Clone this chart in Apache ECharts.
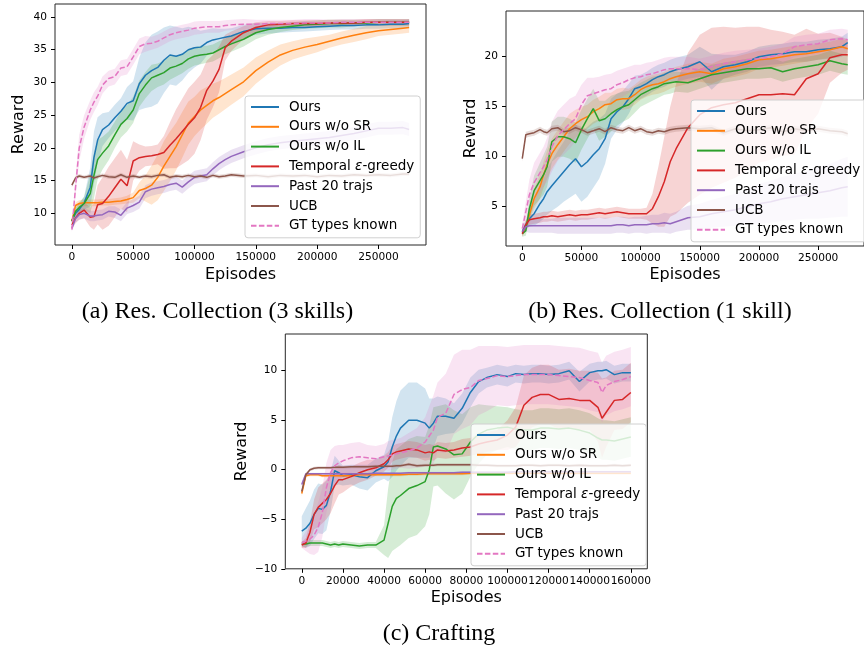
<!DOCTYPE html>
<html>
<head>
<meta charset="utf-8">
<script src="https://cdn.jsdelivr.net/npm/echarts@6/dist/echarts.min.js"></script>
<style>
  html, body { margin: 0; background: #fff; }
  #chart { width: 864px; height: 652px; }
</style>
</head>
<body>
<div id="chart"></div>
<script>
// method names and tab10 colours
const methods = ['Ours', 'Ours w/o SR', 'Ours w/o IL', 'Temporal ε-greedy', 'Past 20 trajs', 'UCB', 'GT types known'];
const colors = ['#1f77b4', '#ff7f0e', '#2ca02c', '#d62728', '#9467bd', '#8c564b', '#e377c2'];

// ---------- (a) Res. Collection (3 skills) ----------
const aEpisodes = [0, 3000, 6000, 10000, 15000, 18000, 21000, 25000, 30000, 35000, 40000, 45000, 50000, 55000, 60000, 65000, 70000, 75000, 80000, 85000, 90000, 95000, 100000, 105000, 110000, 115000, 120000, 125000, 130000, 140000, 150000, 160000, 170000, 180000, 190000, 200000, 210000, 220000, 230000, 240000, 250000, 260000, 270000, 275000];
const aOurs = [8.9, 10.0, 10.6, 11.6, 14.0, 18.5, 21.2, 22.8, 23.5, 24.6, 25.6, 26.8, 27.2, 29.8, 31.1, 31.8, 32.3, 33.4, 34.2, 34.0, 34.3, 35.0, 35.3, 35.4, 36.1, 36.5, 36.7, 36.9, 37.1, 37.8, 38.2, 38.3, 38.3, 38.4, 38.4, 38.5, 38.6, 38.7, 38.7, 38.8, 38.8, 38.9, 38.9, 39.0];
const aOursBand = [0.5, 0.7, 0.8, 1.0, 3.0, 4.0, 3.5, 2.5, 2.0, 2.0, 2.0, 2.5, 3.0, 4.0, 5.0, 5.5, 5.5, 5.0, 4.5, 4.5, 4.0, 3.5, 3.0, 2.5, 2.0, 1.8, 1.5, 1.3, 1.2, 1.0, 0.9, 0.8, 0.7, 0.7, 0.6, 0.6, 0.6, 0.6, 0.6, 0.6, 0.6, 0.6, 0.6, 0.6];
const aNoSR = [8.8, 11.2, 11.5, 11.6, 11.6, 11.6, 11.6, 11.7, 11.7, 11.8, 11.9, 12.1, 12.4, 13.5, 13.8, 14.3, 15.5, 17.2, 18.7, 20.2, 22.0, 23.8, 24.8, 25.8, 26.5, 27.2, 27.7, 28.3, 28.9, 30.1, 31.8, 33.1, 34.2, 34.9, 35.4, 35.8, 36.3, 36.8, 37.2, 37.6, 37.9, 38.1, 38.3, 38.4];
const aNoSRBand = [0.3, 0.5, 0.5, 0.5, 0.5, 0.5, 0.5, 0.5, 0.5, 0.5, 0.5, 0.6, 0.8, 1.2, 2.0, 3.0, 3.5, 3.8, 3.8, 3.6, 3.5, 3.3, 3.0, 3.0, 2.8, 2.6, 2.5, 2.4, 2.3, 2.2, 2.0, 1.8, 1.6, 1.4, 1.3, 1.2, 1.0, 1.0, 1.0, 1.0, 0.8, 0.8, 0.8, 0.8];
const aNoIL = [8.8, 10.3, 10.9, 11.5, 13.0, 15.8, 18.2, 19.2, 20.3, 22.0, 23.6, 24.5, 25.8, 28.3, 29.6, 30.7, 31.1, 31.5, 32.2, 32.5, 32.9, 33.6, 34.0, 34.2, 34.3, 34.5, 35.0, 35.5, 35.9, 36.6, 37.6, 38.1, 38.4, 38.6, 38.8, 38.9, 39.0, 39.0, 39.1, 39.1, 39.2, 39.2, 39.2, 39.2];
const aNoILBand = [0.4, 0.6, 0.8, 1.0, 3.0, 3.5, 3.0, 2.5, 2.2, 2.0, 2.0, 2.0, 2.0, 2.0, 2.0, 2.0, 1.8, 1.8, 1.8, 1.6, 1.5, 1.5, 1.4, 1.4, 1.3, 1.3, 1.3, 1.2, 1.2, 1.1, 1.0, 0.8, 0.7, 0.6, 0.6, 0.6, 0.6, 0.6, 0.5, 0.5, 0.5, 0.5, 0.5, 0.5];
const aTemporal = [8.2, 9.3, 10.0, 10.5, 9.4, 9.5, 11.3, 11.5, 12.6, 13.9, 15.2, 14.2, 18.0, 18.5, 18.7, 18.8, 19.0, 19.3, 20.4, 21.4, 22.5, 23.6, 24.6, 26.2, 28.8, 30.2, 32.0, 35.3, 36.3, 37.6, 38.4, 38.8, 38.9, 39.0, 39.0, 39.0, 39.1, 39.1, 39.1, 39.2, 39.2, 39.2, 39.2, 39.2];
const aTemporalBand = [0.5, 0.8, 1.0, 1.2, 1.5, 2.0, 3.0, 4.0, 4.5, 4.5, 4.5, 4.0, 3.0, 2.0, 1.5, 1.5, 1.5, 2.5, 3.5, 4.5, 5.0, 5.5, 5.5, 5.0, 4.5, 4.0, 3.5, 2.0, 1.5, 1.0, 0.8, 0.6, 0.5, 0.5, 0.5, 0.5, 0.5, 0.5, 0.5, 0.5, 0.5, 0.5, 0.5, 0.5];
const aPast = [7.7, 9.2, 9.8, 10.0, 9.6, 9.6, 9.7, 9.8, 10.3, 10.2, 9.7, 10.8, 11.2, 11.7, 13.3, 13.7, 13.9, 14.1, 14.4, 14.6, 14.0, 14.8, 15.5, 15.7, 15.9, 16.8, 17.6, 18.2, 18.7, 19.4, 20.0, 20.5, 20.8, 21.0, 21.2, 21.4, 21.6, 21.9, 22.2, 22.6, 23.0, 23.0, 23.1, 22.8];
const aPastBand = [0.4, 0.6, 0.8, 0.8, 0.8, 0.8, 0.8, 0.8, 0.8, 0.9, 0.9, 0.9, 1.0, 1.0, 1.0, 1.0, 1.0, 1.0, 1.0, 1.0, 1.0, 1.0, 1.0, 1.0, 1.0, 1.0, 1.0, 1.0, 1.0, 1.0, 1.0, 1.0, 1.0, 1.0, 1.0, 1.0, 1.0, 1.0, 1.0, 1.0, 1.0, 1.0, 1.0, 1.0];
const aUCB = [14.3, 15.4, 15.7, 15.5, 15.7, 15.4, 15.6, 15.8, 15.6, 15.5, 15.9, 15.5, 15.7, 15.5, 15.7, 15.6, 15.8, 15.9, 15.5, 15.7, 15.6, 15.8, 15.6, 15.7, 15.5, 15.8, 15.6, 15.7, 15.9, 15.7, 15.8, 15.6, 15.8, 15.7, 15.8, 15.6, 15.8, 15.7, 15.9, 15.8, 15.9, 15.8, 16.0, 16.0];
const aUCBBand = [0.3, 0.3, 0.3, 0.3, 0.3, 0.3, 0.3, 0.3, 0.3, 0.3, 0.3, 0.3, 0.3, 0.3, 0.3, 0.3, 0.3, 0.3, 0.3, 0.3, 0.3, 0.3, 0.3, 0.3, 0.3, 0.3, 0.3, 0.3, 0.3, 0.3, 0.3, 0.3, 0.3, 0.3, 0.3, 0.3, 0.3, 0.3, 0.3, 0.3, 0.3, 0.3, 0.3, 0.3];
const aGT = [7.5, 14.0, 20.0, 23.2, 25.8, 27.0, 27.9, 29.6, 30.6, 30.9, 32.2, 32.4, 33.9, 35.5, 35.9, 36.0, 36.3, 36.8, 37.3, 37.6, 37.8, 38.0, 38.3, 38.4, 38.5, 38.5, 38.5, 38.7, 38.8, 38.9, 38.9, 39.0, 39.0, 39.0, 39.1, 39.1, 39.1, 39.2, 39.2, 39.2, 39.2, 39.2, 39.2, 39.2];
const aGTBand = [0.5, 1.5, 2.0, 1.8, 1.5, 1.5, 1.4, 1.3, 1.2, 1.2, 1.2, 1.2, 1.2, 1.2, 1.2, 1.0, 1.0, 1.0, 1.0, 1.0, 1.0, 1.0, 1.0, 1.0, 0.9, 0.9, 0.9, 0.8, 0.8, 0.8, 0.7, 0.6, 0.6, 0.6, 0.6, 0.6, 0.5, 0.5, 0.5, 0.5, 0.5, 0.5, 0.5, 0.5];

// ---------- (b) Res. Collection (1 skill) ----------
const bEpisodes = aEpisodes;
const bOurs = [2.5, 3.2, 3.8, 4.3, 5.3, 5.8, 6.5, 7.1, 7.8, 8.5, 9.2, 9.8, 9.0, 9.5, 10.2, 10.8, 11.8, 13.8, 14.5, 15.0, 15.8, 16.8, 17.0, 17.3, 17.7, 18.0, 18.2, 18.5, 18.7, 19.0, 19.5, 18.5, 19.0, 19.2, 19.5, 20.0, 20.2, 20.3, 20.5, 20.5, 20.7, 20.8, 21.0, 21.4];
const bOursBand = [0.3, 0.5, 0.8, 1.2, 1.8, 2.0, 2.3, 2.5, 2.8, 3.0, 3.3, 3.5, 3.5, 3.5, 3.3, 3.0, 2.5, 2.0, 1.8, 1.6, 1.5, 1.3, 1.2, 1.2, 1.2, 1.2, 1.2, 1.2, 1.2, 1.2, 1.5, 1.8, 1.2, 1.0, 1.0, 1.0, 1.0, 1.0, 1.0, 1.0, 1.0, 1.0, 1.0, 1.0];
const bNoSR = [2.4, 3.0, 4.2, 5.8, 7.0, 8.2, 9.2, 10.3, 11.2, 12.0, 12.8, 13.3, 13.7, 14.0, 14.5, 14.8, 15.2, 15.3, 15.7, 15.8, 15.8, 16.2, 16.7, 17.0, 17.2, 17.3, 17.5, 17.8, 18.0, 18.3, 18.5, 18.3, 18.8, 19.0, 19.3, 19.7, 19.8, 20.0, 20.2, 20.3, 20.5, 20.7, 21.0, 20.8];
const bNoSRBand = [0.3, 0.5, 0.8, 1.0, 1.2, 1.3, 1.4, 1.5, 1.5, 1.5, 1.5, 1.4, 1.3, 1.2, 1.2, 1.2, 1.2, 1.1, 1.1, 1.1, 1.0, 1.0, 1.0, 1.0, 1.0, 1.0, 1.0, 1.0, 1.0, 1.0, 1.0, 1.0, 1.0, 1.0, 1.0, 0.9, 0.9, 0.9, 0.9, 0.8, 0.8, 0.8, 0.8, 0.8];
const bNoIL = [2.3, 2.6, 4.8, 6.6, 7.6, 8.2, 9.0, 11.5, 12.0, 12.0, 11.8, 11.4, 12.7, 13.8, 14.8, 13.6, 13.8, 14.3, 14.7, 15.0, 15.2, 15.7, 16.2, 16.5, 16.8, 17.0, 17.3, 17.4, 17.5, 17.4, 17.8, 18.2, 18.4, 18.6, 18.8, 18.8, 18.9, 18.5, 18.8, 19.0, 19.2, 19.6, 19.3, 19.2];
const bNoILBand = [0.3, 0.5, 1.0, 1.5, 1.8, 2.0, 2.0, 2.0, 2.0, 2.0, 2.0, 2.0, 2.0, 2.0, 2.0, 2.0, 1.8, 1.8, 1.6, 1.5, 1.4, 1.3, 1.2, 1.2, 1.2, 1.1, 1.1, 1.1, 1.0, 1.0, 1.0, 1.0, 1.0, 1.0, 1.0, 1.0, 1.0, 1.0, 1.0, 1.0, 1.0, 1.0, 1.0, 1.0];
const bTemporal = [2.3, 3.2, 3.7, 3.8, 3.9, 4.0, 4.0, 4.1, 4.0, 4.1, 4.2, 4.1, 4.2, 4.2, 4.3, 4.4, 4.3, 4.4, 4.5, 4.4, 4.3, 4.3, 4.3, 4.3, 4.8, 6.0, 7.5, 9.5, 10.8, 12.9, 14.2, 14.9, 15.2, 15.4, 15.8, 16.2, 16.2, 16.3, 16.2, 17.8, 18.3, 19.9, 20.2, 20.2];
const bTemporalBand = [0.3, 0.4, 0.5, 0.5, 0.5, 0.5, 0.5, 0.5, 0.5, 0.5, 0.5, 0.5, 0.5, 0.5, 0.5, 0.5, 0.5, 0.5, 0.5, 0.5, 0.5, 0.5, 0.5, 0.6, 1.5, 3.0, 4.5, 5.5, 6.5, 7.5, 8.0, 8.0, 7.8, 7.5, 7.2, 6.8, 6.5, 6.2, 6.0, 5.0, 4.0, 2.5, 1.8, 1.5];
const bPast = [2.5, 3.0, 3.1, 3.1, 3.1, 3.1, 3.1, 3.1, 3.1, 3.1, 3.1, 3.1, 3.1, 3.1, 3.1, 3.1, 3.1, 3.1, 3.2, 3.2, 3.1, 3.2, 3.2, 3.2, 3.3, 3.3, 3.4, 3.3, 3.5, 3.9, 4.0, 4.3, 4.5, 4.7, 5.0, 5.3, 5.5, 5.8, 6.0, 6.2, 6.4, 6.6, 6.9, 7.0];
const bPastBand = [0.3, 0.5, 0.7, 0.7, 0.7, 0.7, 0.7, 0.7, 0.8, 0.8, 0.8, 0.8, 0.8, 0.8, 0.8, 0.8, 0.8, 0.8, 0.8, 0.8, 0.8, 0.8, 0.8, 0.9, 0.9, 0.9, 1.0, 1.0, 1.0, 1.2, 1.3, 1.4, 1.5, 1.6, 1.8, 2.0, 2.1, 2.2, 2.3, 2.4, 2.6, 2.7, 2.9, 3.0];
const bUCB = [9.8, 12.2, 12.3, 12.4, 12.7, 12.5, 12.4, 12.8, 12.9, 12.5, 12.6, 12.9, 12.7, 12.4, 12.6, 12.8, 12.5, 12.9, 12.7, 12.6, 12.9, 12.6, 12.8, 12.5, 12.4, 12.6, 12.5, 12.7, 12.8, 12.9, 12.8, 12.9, 12.4, 12.8, 12.6, 12.7, 12.9, 12.5, 12.8, 12.6, 12.8, 12.6, 12.5, 12.3];
const bUCBBand = [0.3, 0.3, 0.3, 0.3, 0.3, 0.3, 0.3, 0.3, 0.3, 0.3, 0.3, 0.3, 0.3, 0.3, 0.3, 0.3, 0.3, 0.3, 0.3, 0.3, 0.3, 0.3, 0.3, 0.3, 0.3, 0.3, 0.3, 0.3, 0.3, 0.3, 0.3, 0.3, 0.3, 0.3, 0.3, 0.3, 0.3, 0.3, 0.3, 0.3, 0.3, 0.3, 0.3, 0.3];
const bGT = [2.8, 4.5, 6.2, 7.4, 8.4, 9.0, 9.7, 11.0, 12.1, 12.7, 13.3, 13.8, 15.2, 16.1, 16.3, 16.5, 16.7, 16.8, 17.2, 17.4, 17.7, 17.9, 18.0, 18.2, 18.3, 18.5, 18.7, 18.8, 18.8, 18.8, 18.7, 19.0, 19.3, 19.5, 19.7, 19.8, 20.0, 20.3, 21.0, 21.2, 21.3, 21.7, 21.8, 21.7];
const bGTBand = [0.5, 1.0, 1.5, 2.0, 2.0, 2.0, 2.2, 2.5, 2.5, 2.5, 2.5, 2.3, 2.0, 1.8, 1.6, 1.5, 1.5, 1.5, 1.4, 1.4, 1.3, 1.3, 1.2, 1.2, 1.2, 1.2, 1.2, 1.2, 1.2, 1.2, 1.1, 1.1, 1.1, 1.1, 1.0, 1.0, 1.0, 1.0, 1.0, 1.0, 1.0, 1.0, 1.0, 1.0];

// ---------- (c) Crafting ----------
const cEpisodes = [0, 2000, 4000, 6000, 8000, 10000, 12000, 14000, 16000, 18000, 20000, 24000, 28000, 32000, 36000, 40000, 42000, 44000, 46000, 48000, 52000, 56000, 60000, 62000, 64000, 66000, 70000, 74000, 78000, 82000, 86000, 90000, 95000, 100000, 104000, 108000, 112000, 116000, 120000, 125000, 130000, 135000, 140000, 144000, 146000, 148000, 152000, 156000, 160000];
const cOurs = [-6.2, -5.9, -5.4, -4.5, -3.9, -4.0, -3.6, -2.2, -0.1, -0.3, -0.6, -0.5, -0.7, -0.8, -0.1, 0.3, 0.8, 2.3, 3.4, 4.2, 5.0, 5.0, 4.7, 4.2, 4.7, 5.4, 5.4, 5.2, 6.2, 7.8, 8.9, 9.3, 9.6, 9.4, 9.7, 9.6, 9.7, 9.7, 9.6, 9.7, 10.0, 8.9, 9.8, 10.0, 10.0, 10.1, 9.6, 9.8, 9.8];
const cOursBand = [1.5, 2.0, 2.3, 2.5, 2.5, 2.5, 2.5, 2.0, 1.5, 1.2, 1.0, 1.0, 1.2, 1.3, 1.2, 1.2, 2.0, 3.0, 3.5, 3.8, 3.8, 3.8, 3.5, 3.0, 2.5, 2.0, 1.8, 1.5, 1.5, 1.5, 1.2, 1.0, 1.0, 1.0, 0.9, 0.9, 0.9, 0.9, 0.9, 0.9, 0.9, 1.0, 0.9, 0.9, 0.9, 0.9, 0.9, 0.9, 0.9];
const cNoSR = [-2.4, -0.6, -0.5, -0.5, -0.5, -0.6, -0.6, -0.6, -0.6, -0.6, -0.6, -0.6, -0.5, -0.5, -0.5, -0.5, -0.5, -0.5, -0.5, -0.5, -0.45, -0.45, -0.4, -0.4, -0.4, -0.4, -0.4, -0.4, -0.4, -0.35, -0.35, -0.35, -0.35, -0.35, -0.35, -0.35, -0.35, -0.35, -0.35, -0.35, -0.35, -0.35, -0.35, -0.35, -0.35, -0.35, -0.35, -0.35, -0.35];
const cNoSRBand = [0.3, 0.15, 0.15, 0.15, 0.15, 0.15, 0.15, 0.15, 0.15, 0.15, 0.15, 0.15, 0.15, 0.15, 0.15, 0.15, 0.15, 0.15, 0.15, 0.15, 0.15, 0.15, 0.15, 0.15, 0.15, 0.15, 0.15, 0.15, 0.15, 0.15, 0.15, 0.15, 0.15, 0.15, 0.15, 0.15, 0.15, 0.15, 0.15, 0.15, 0.15, 0.15, 0.15, 0.15, 0.15, 0.15, 0.15, 0.15, 0.15];
const cNoIL = [-7.5, -7.5, -7.4, -7.4, -7.4, -7.4, -7.5, -7.6, -7.5, -7.6, -7.5, -7.6, -7.7, -7.6, -7.6, -7.1, -5.4, -3.7, -2.9, -2.6, -1.9, -1.6, -1.2, 0.0, 2.3, 2.4, 2.1, 1.5, 1.6, 2.8, 3.6, 4.0, 4.2, 4.3, 4.1, 4.0, 4.0, 4.2, 4.2, 4.1, 4.2, 4.0, 3.7, 3.2, 3.0, 3.0, 2.9, 3.1, 3.3];
const cNoILBand = [0.3, 0.3, 0.3, 0.3, 0.3, 0.3, 0.3, 0.3, 0.3, 0.3, 0.3, 0.3, 0.3, 0.3, 0.3, 1.5, 3.5, 4.5, 5.0, 5.0, 5.0, 5.0, 4.5, 4.5, 4.0, 4.0, 4.5, 4.5, 4.0, 3.5, 3.0, 2.5, 2.2, 2.0, 2.0, 2.0, 2.0, 2.0, 2.0, 2.0, 2.0, 2.0, 2.0, 2.0, 2.0, 2.0, 2.0, 2.0, 2.0];
const cTemporal = [-7.6, -7.4, -6.3, -4.5, -3.8, -3.4, -3.0, -2.4, -1.6, -1.0, -1.0, -0.7, -0.3, 0.0, 0.2, 0.6, 1.0, 1.6, 1.8, 1.9, 2.1, 2.0, 1.7, 1.8, 1.7, 2.0, 1.9, 2.0, 2.2, 2.3, 2.6, 2.8, 3.0, 3.5, 4.3, 6.5, 7.3, 7.6, 7.6, 7.1, 7.2, 7.0, 7.0, 6.3, 5.2, 5.8, 7.0, 7.1, 7.8];
const cTemporalBand = [0.3, 0.5, 1.0, 1.5, 2.0, 2.0, 2.0, 2.0, 1.8, 1.5, 1.3, 1.0, 1.0, 1.0, 0.8, 0.8, 0.8, 0.8, 0.8, 0.8, 0.8, 0.8, 0.8, 0.8, 0.8, 0.8, 0.8, 0.8, 0.9, 0.9, 1.0, 1.0, 1.0, 1.5, 2.0, 3.0, 3.0, 3.0, 3.0, 3.0, 3.0, 3.0, 3.0, 3.5, 4.0, 3.5, 3.0, 3.0, 3.0];
const cPast = [-1.5, -0.4, -0.4, -0.4, -0.4, -0.4, -0.4, -0.4, -0.4, -0.4, -0.4, -0.4, -0.4, -0.4, -0.35, -0.35, -0.35, -0.35, -0.35, -0.35, -0.3, -0.3, -0.3, -0.3, -0.3, -0.3, -0.3, -0.3, -0.25, -0.25, -0.25, -0.25, -0.25, -0.25, -0.2, -0.2, -0.2, -0.2, -0.2, -0.2, -0.2, -0.2, -0.2, -0.2, -0.2, -0.2, -0.2, -0.2, -0.2];
const cPastBand = [0.3, 0.1, 0.1, 0.1, 0.1, 0.1, 0.1, 0.1, 0.1, 0.1, 0.1, 0.1, 0.1, 0.1, 0.1, 0.1, 0.1, 0.1, 0.1, 0.1, 0.1, 0.1, 0.1, 0.1, 0.1, 0.1, 0.1, 0.1, 0.1, 0.1, 0.1, 0.1, 0.1, 0.1, 0.1, 0.1, 0.1, 0.1, 0.1, 0.1, 0.1, 0.1, 0.1, 0.1, 0.1, 0.1, 0.1, 0.1, 0.1];
const cUCB = [-2.2, -0.5, 0.0, 0.15, 0.2, 0.2, 0.2, 0.2, 0.25, 0.25, 0.25, 0.3, 0.3, 0.3, 0.35, 0.35, 0.35, 0.35, 0.4, 0.4, 0.55, 0.4, 0.45, 0.45, 0.45, 0.5, 0.5, 0.5, 0.5, 0.5, 0.45, 0.45, 0.4, 0.4, 0.4, 0.45, 0.45, 0.4, 0.45, 0.45, 0.4, 0.45, 0.4, 0.4, 0.4, 0.4, 0.45, 0.4, 0.45];
const cUCBBand = [0.3, 0.2, 0.15, 0.15, 0.15, 0.15, 0.15, 0.15, 0.15, 0.15, 0.15, 0.15, 0.15, 0.15, 0.15, 0.15, 0.15, 0.15, 0.15, 0.15, 0.15, 0.15, 0.15, 0.15, 0.15, 0.15, 0.15, 0.15, 0.15, 0.15, 0.15, 0.15, 0.15, 0.15, 0.15, 0.15, 0.15, 0.15, 0.15, 0.15, 0.15, 0.15, 0.15, 0.15, 0.15, 0.15, 0.15, 0.15, 0.15];
const cGT = [-7.4, -7.2, -7.0, -6.6, -5.8, -4.3, -1.8, -0.3, 0.4, 0.7, 0.9, 1.2, 1.3, 1.2, 1.1, 1.3, 1.4, 1.5, 1.6, 1.7, 1.9, 2.2, 2.8, 3.4, 4.0, 5.3, 5.7, 7.6, 8.1, 8.3, 9.0, 9.2, 9.5, 9.4, 9.5, 9.6, 9.6, 9.6, 9.6, 9.5, 9.4, 9.3, 9.0, 8.8, 7.8, 8.5, 8.9, 9.1, 9.4];
const cGTBand = [0.5, 1.0, 1.5, 2.0, 2.5, 2.5, 2.5, 2.3, 2.0, 1.8, 1.6, 1.5, 1.5, 1.3, 1.3, 1.3, 1.5, 1.5, 1.5, 1.5, 1.8, 2.0, 2.5, 3.0, 3.5, 3.5, 4.0, 4.0, 4.0, 3.8, 3.5, 3.3, 3.0, 3.0, 3.0, 3.0, 3.0, 3.0, 3.0, 3.0, 3.0, 3.0, 3.0, 3.0, 3.0, 3.0, 3.0, 3.0, 3.0];

// tick positions (labels shown only there)
const xTicksAB = [0, 50000, 100000, 150000, 200000, 250000];
const xTicksC = [0, 20000, 40000, 60000, 80000, 100000, 120000, 140000, 160000];
const yTicksA = [10, 15, 20, 25, 30, 35, 40];
const yTicksB = [5, 10, 15, 20];
const yTicksC = [-10, -5, 0, 5, 10];

const panels = [
  { x: aEpisodes, means: [aOurs, aNoSR, aNoIL, aTemporal, aPast, aUCB, aGT],
    bands: [aOursBand, aNoSRBand, aNoILBand, aTemporalBand, aPastBand, aUCBBand, aGTBand] },
  { x: bEpisodes, means: [bOurs, bNoSR, bNoIL, bTemporal, bPast, bUCB, bGT],
    bands: [bOursBand, bNoSRBand, bNoILBand, bTemporalBand, bPastBand, bUCBBand, bGTBand] },
  { x: cEpisodes, means: [cOurs, cNoSR, cNoIL, cTemporal, cPast, cUCB, cGT],
    bands: [cOursBand, cNoSRBand, cNoILBand, cTemporalBand, cPastBand, cUCBBand, cGTBand] }
];

const font = 'DejaVu Sans';

function bandSeries(idx, xs, mean, band, color) {
  return {
    type: 'custom',
    xAxisIndex: idx,
    yAxisIndex: idx,
    silent: true,
    clip: true,
    z: 1,
    data: xs.map((x, i) => [x, mean[i] - band[i], mean[i] + band[i]]),
    encode: { x: 0, y: [1, 2] },
    renderItem(params, api) {
      if (params.dataIndex !== 0) return null;
      const upper = xs.map((x, i) => api.coord([x, mean[i] + band[i]]));
      const lower = xs.map((x, i) => api.coord([x, mean[i] - band[i]])).reverse();
      return {
        type: 'polygon',
        shape: { points: upper.concat(lower) },
        style: { fill: color, opacity: 0.2 }
      };
    }
  };
}

function lineSeries(idx, xs, mean, k) {
  return {
    type: 'line',
    name: methods[k],
    xAxisIndex: idx,
    yAxisIndex: idx,
    data: xs.map((x, i) => [x, mean[i]]),
    symbol: 'none',
    clip: true,
    z: 3,
    itemStyle: { color: colors[k] },
    lineStyle: { color: colors[k], width: 1.5, type: k === 6 ? [5.5, 2.4] : 'solid' }
  };
}

const series = [];
panels.forEach((p, idx) => {
  p.means.forEach((m, k) => series.push(bandSeries(idx, p.x, m, p.bands[k], colors[k])));
  p.means.forEach((m, k) => series.push(lineSeries(idx, p.x, m, k)));
});

const plain = v => (v < 0 ? '\u2212' + (-v) : String(v));

function xAxis(idx, min, max, ticks, gap) {
  return {
    type: 'value', gridIndex: idx, min, max,
    name: 'Episodes', nameLocation: 'middle', nameGap: gap,
    nameTextStyle: { fontFamily: font, fontSize: 16, color: '#000' },
    axisLine: { show: false, onZero: false },
    axisTick: { show: true, length: 4, customValues: ticks, lineStyle: { color: '#000' } },
    axisLabel: { customValues: ticks, fontFamily: font, fontSize: 10.6, color: '#000', margin: 7,
      formatter: plain, hideOverlap: false },
    splitLine: { show: false }
  };
}

function yAxis(idx, min, max, ticks, gap) {
  return {
    type: 'value', gridIndex: idx, min, max,
    name: 'Reward', nameLocation: 'middle', nameGap: gap,
    nameTextStyle: { fontFamily: font, fontSize: 16, color: '#000' },
    axisLine: { show: false, onZero: false },
    axisTick: { show: true, length: 4, customValues: ticks, lineStyle: { color: '#000' } },
    axisLabel: { customValues: ticks, fontFamily: font, fontSize: 10.6, color: '#000', margin: 8,
      formatter: plain, hideOverlap: false },
    splitLine: { show: false }
  };
}

function legend(left, top) {
  return {
    data: methods,
    orient: 'vertical',
    left, top,
    itemWidth: 28,
    itemHeight: 14,
    itemGap: 5.8,
    padding: [4, 6, 5, 5],
    backgroundColor: 'rgba(255,255,255,0.8)',
    borderColor: '#d0d0d0',
    borderWidth: 1,
    borderRadius: 3,
    itemStyle: { opacity: 0, borderWidth: 0 },
    formatter: name => name === methods[3]
      ? '{p|Temporal }{e|ε}{q|-greedy}'
      : '{p|' + name + '}',
    textStyle: {
      fontFamily: font, fontSize: 13.5, color: '#000',
      rich: {
        p: { fontFamily: font, fontSize: 13.5, color: '#000', padding: [0, 0, 0, 5] },
        q: { fontFamily: font, fontSize: 13.5, color: '#000' },
        e: { fontFamily: font, fontSize: 13.5, color: '#000', fontStyle: 'italic' }
      }
    }
  };
}

function caption(text, x, y) {
  return {
    type: 'text', x, y, silent: true,
    style: { text, fontFamily: 'Liberation Serif', fontSize: 24, fill: '#000', align: 'center', verticalAlign: 'middle' }
  };
}

const gridStyle = { show: true, borderColor: '#262626', borderWidth: 1, backgroundColor: 'transparent' };

const chart = echarts.init(document.getElementById('chart'));
chart.setOption({
  animation: false,
  backgroundColor: '#fff',
  textStyle: { fontFamily: font },
  grid: [
    Object.assign({ left: 55, top: 4, width: 371, height: 241 }, gridStyle),
    Object.assign({ left: 506, top: 11, width: 362.5, height: 235 }, gridStyle),
    Object.assign({ left: 285.3, top: 334, width: 362, height: 234.8 }, gridStyle)
  ],
  xAxis: [
    xAxis(0, -13750, 288750, xTicksAB, 22),
    xAxis(1, -13750, 288750, xTicksAB, 21),
    xAxis(2, -8000, 168000, xTicksC, 21)
  ],
  yAxis: [
    yAxis(0, 5.16, 41.99, yTicksA, 28),
    yAxis(1, 1.07, 24.57, yTicksB, 27),
    yAxis(2, -10, 13.7, yTicksC, 35.6)
  ],
  legend: [legend(245, 96), legend(691, 100), legend(471, 424)],
  graphic: [
    caption('(a) Res. Collection (3 skills)', 217.5, 312),
    caption('(b) Res. Collection (1 skill)', 660, 312),
    caption('(c) Crafting', 439, 634)
  ],
  series
});
</script>
</body>
</html>
